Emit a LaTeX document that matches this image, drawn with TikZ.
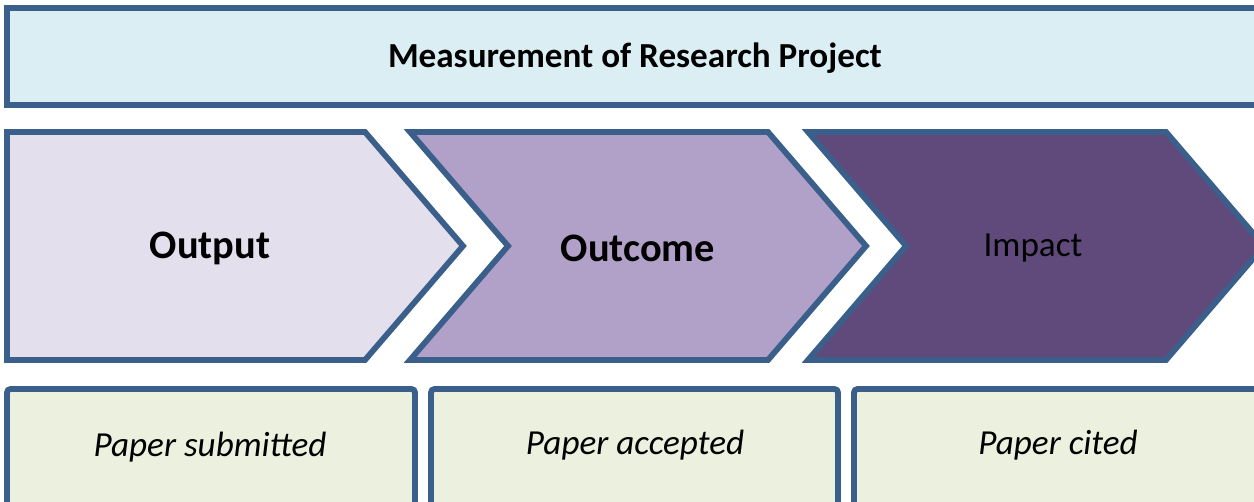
\documentclass[tikz,border=0pt]{standalone}
\usepackage{fontspec}
\setmainfont{Carlito}
\definecolor{edgeblue}{HTML}{3A5F8B}
\definecolor{titlefill}{HTML}{DBEEF4}
\definecolor{outputfill}{HTML}{E4DFEC}
\definecolor{outcomefill}{HTML}{B1A0C7}
\definecolor{impactfill}{HTML}{604A7B}
\definecolor{examplefill}{HTML}{EBF1DE}
\tikzset{
    border/.style={draw=edgeblue, line width=3.3pt, line join=miter},
    stagelabel/.style={font=\fontsize{23}{26}\selectfont\bfseries},
    examplebox/.style={border, fill=examplefill, rounded corners=2pt},
    examplelabel/.style={font=\fontsize{20}{23}\selectfont\itshape}
}
\begin{document}
\begin{tikzpicture}[x=0.02cm,y=-0.02cm]
    \useasboundingbox (0,0) rectangle (1254,502);
    \clip (0,0) rectangle (1254,502);
    %Title bar
    \draw[border, fill=titlefill] (7,8) rectangle (1275,105);
    \node[font=\fontsize{20}{23}\selectfont\bfseries] (title) at (635,58) {Measurement of Research Project};
    %Chevrons
    \draw[border, fill=outputfill] (7,132) -- (365,132) -- (463,246) -- (365,360) -- (7,360) -- cycle;
    \draw[border, fill=outcomefill] (410,132) -- (768,132) -- (866,246) -- (768,360) -- (410,360) -- (508,246) -- cycle;
    \draw[border, fill=impactfill] (808,132) -- (1166,132) -- (1264,246) -- (1166,360) -- (808,360) -- (906,246) -- cycle;
    \node[stagelabel] (output) at (210,248) {Output};
    \node[stagelabel] (outcome) at (638,248) {Outcome};
    \node[font=\fontsize{20}{24}\selectfont] (impact) at (1033,248) {Impact};
    %Examples
    \draw[examplebox] (7,389) rectangle (415,515);
    \draw[examplebox] (431,389) rectangle (838,515);
    \draw[examplebox] (854,389) rectangle (1275,515);
    \node[examplelabel] (submitted) at (210,447) {Paper submitted};
    \node[examplelabel] (accepted) at (635,445) {Paper accepted};
    \node[examplelabel] (cited) at (1058,445) {Paper cited};
\end{tikzpicture}
\end{document}
